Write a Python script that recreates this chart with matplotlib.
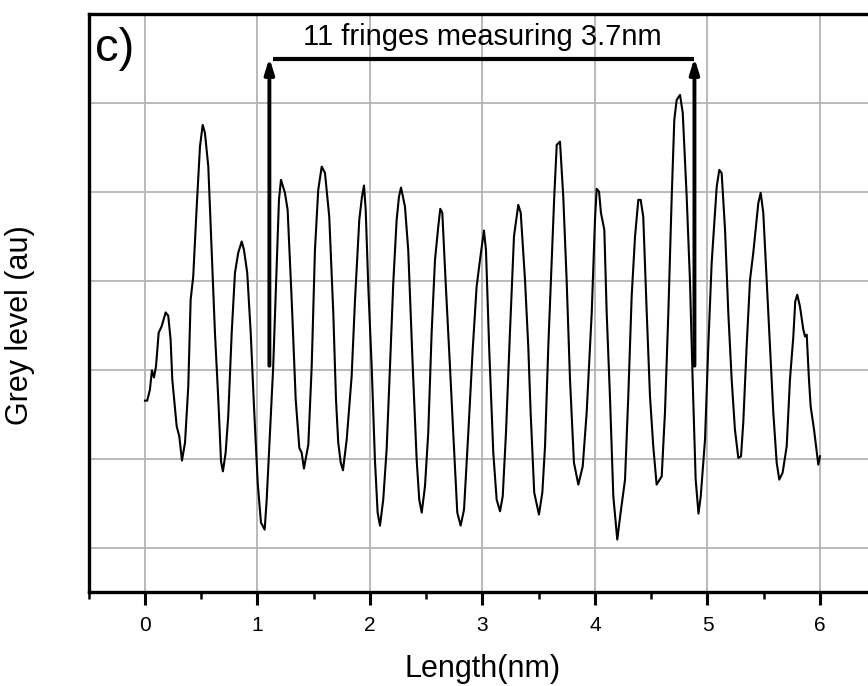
import matplotlib
matplotlib.use("Agg")
import matplotlib.pyplot as plt
from matplotlib.ticker import MultipleLocator, NullFormatter

plt.rcParams['font.family'] = ['Liberation Sans', 'DejaVu Sans']

# Line profile across the lattice fringes (length in nm, grey level in arbitrary units)
length_nm = [
    0.000, 0.020, 0.044, 0.062, 0.080, 0.098, 0.122, 0.148, 0.184, 0.207,
    0.228, 0.243, 0.282, 0.305, 0.329, 0.356, 0.385, 0.406, 0.429, 0.460,
    0.489, 0.513, 0.533, 0.563, 0.593, 0.622, 0.652, 0.676, 0.693, 0.717,
    0.740, 0.771, 0.800, 0.829, 0.860, 0.880, 0.909, 0.940, 0.969, 1.002,
    1.031, 1.064, 1.082, 1.111, 1.140, 1.171, 1.191, 1.209, 1.244, 1.268,
    1.304, 1.340, 1.372, 1.393, 1.413, 1.452, 1.482, 1.511, 1.540, 1.571,
    1.600, 1.638, 1.674, 1.698, 1.718, 1.740, 1.760, 1.793, 1.837, 1.867,
    1.905, 1.929, 1.947, 1.962, 1.985, 2.015, 2.044, 2.068, 2.089, 2.118,
    2.148, 2.178, 2.207, 2.237, 2.258, 2.276, 2.311, 2.340, 2.380, 2.415,
    2.438, 2.460, 2.489, 2.518, 2.548, 2.578, 2.607, 2.625, 2.643, 2.673,
    2.711, 2.740, 2.776, 2.806, 2.836, 2.874, 2.913, 2.948, 2.978, 3.013,
    3.031, 3.060, 3.096, 3.126, 3.156, 3.180, 3.209, 3.244, 3.280, 3.318,
    3.340, 3.378, 3.407, 3.428, 3.460, 3.502, 3.532, 3.556, 3.585, 3.615,
    3.638, 3.660, 3.689, 3.718, 3.748, 3.778, 3.813, 3.852, 3.891, 3.926,
    3.971, 4.000, 4.015, 4.036, 4.053, 4.083, 4.104, 4.133, 4.163, 4.198,
    4.228, 4.267, 4.296, 4.326, 4.356, 4.385, 4.406, 4.429, 4.460, 4.489,
    4.518, 4.548, 4.593, 4.622, 4.652, 4.682, 4.705, 4.726, 4.756, 4.780,
    4.815, 4.844, 4.868, 4.895, 4.920, 4.940, 4.978, 5.007, 5.037, 5.082,
    5.105, 5.126, 5.156, 5.185, 5.215, 5.244, 5.274, 5.298, 5.318, 5.348,
    5.378, 5.407, 5.437, 5.452, 5.473, 5.496, 5.526, 5.556, 5.585, 5.615,
    5.638, 5.668, 5.704, 5.733, 5.763, 5.780, 5.798, 5.822, 5.852, 5.867,
    5.882, 5.902, 5.917, 5.947, 5.985, 6.000,
]
grey_level = [
    2.652, 2.652, 2.775, 2.992, 2.913, 3.037, 3.416, 3.487, 3.644, 3.607,
    3.337, 2.888, 2.363, 2.251, 1.978, 2.180, 2.812, 3.787, 4.048, 4.835,
    5.509, 5.753, 5.663, 5.284, 4.348, 3.416, 2.663, 1.970, 1.857, 2.067,
    2.475, 3.416, 4.090, 4.315, 4.442, 4.348, 4.090, 3.416, 2.588, 1.730,
    1.281, 1.202, 1.539, 2.292, 3.037, 4.161, 4.910, 5.135, 4.989, 4.798,
    3.787, 2.663, 2.120, 2.067, 1.888, 2.157, 3.037, 4.348, 5.022, 5.284,
    5.213, 4.722, 3.637, 2.663, 2.180, 1.955, 1.869, 2.213, 2.925, 3.787,
    4.685, 4.947, 5.071, 4.798, 3.936, 3.037, 1.989, 1.393, 1.247, 1.539,
    2.101, 3.037, 3.974, 4.685, 4.947, 5.048, 4.835, 4.348, 3.037, 1.989,
    1.539, 1.393, 1.689, 2.292, 3.416, 4.236, 4.610, 4.809, 4.764, 3.974,
    3.037, 2.292, 1.393, 1.247, 1.427, 2.292, 3.225, 3.936, 4.236, 4.565,
    4.348, 3.225, 2.067, 1.539, 1.408, 1.576, 2.292, 3.416, 4.498, 4.854,
    4.764, 4.011, 3.262, 2.517, 1.618, 1.371, 1.618, 2.138, 3.262, 4.199,
    4.947, 5.528, 5.565, 4.947, 4.011, 2.888, 1.955, 1.708, 1.913, 2.517,
    3.640, 4.685, 5.034, 5.003, 4.764, 4.573, 3.640, 2.700, 1.576, 1.090,
    1.393, 1.764, 2.700, 3.824, 4.498, 4.910, 4.910, 4.722, 3.640, 2.700,
    2.138, 1.708, 1.801, 2.517, 3.640, 4.947, 5.809, 6.034, 6.090, 5.888,
    4.947, 4.011, 2.888, 1.764, 1.382, 1.576, 2.213, 3.262, 4.199, 5.060,
    5.247, 5.210, 4.573, 3.640, 2.888, 2.326, 2.008, 2.026, 2.404, 3.262,
    4.011, 4.315, 4.685, 4.876, 4.989, 4.764, 4.011, 3.262, 2.517, 1.955,
    1.764, 1.843, 2.138, 2.888, 3.374, 3.767, 3.843, 3.711, 3.449, 3.374,
    3.393, 2.888, 2.588, 2.326, 1.933, 2.026,
]

# Span bracket marking the fringes that were counted
fringe_start = 1.106
fringe_end = 4.884
bracket_base = 3.045
bracket_top = 6.506
bracket_text = "11 fringes measuring 3.7nm"

x_ticks = [0, 1, 2, 3, 4, 5, 6]

fig = plt.figure(figsize=(8.68, 6.86), dpi=100)
ax = fig.add_axes([0.1022, 0.137, 0.9073, 0.8426])

ax.plot(length_nm, grey_level, color='black', lw=1.5, zorder=3)

ax.set_xlim(-0.5, 6.5)
ax.set_ylim(0.5, 7.0)

ax.xaxis.set_major_locator(MultipleLocator(1))
ax.xaxis.set_minor_locator(MultipleLocator(0.5))
ax.set_xticks(x_ticks)
ax.set_xticklabels([str(t) for t in x_ticks])
ax.yaxis.set_major_locator(MultipleLocator(1))
ax.yaxis.set_major_formatter(NullFormatter())

ax.grid(True, which='major', color='#b4b4b4', lw=1.3, zorder=0)
ax.tick_params(axis='x', which='major', direction='out', length=9, width=2.2,
               labelsize=15, pad=8, top=False)
ax.tick_params(axis='x', which='minor', direction='out', length=5, width=1.8, top=False)
ax.tick_params(axis='y', which='both', length=0)

for side in ('left', 'bottom', 'top'):
    ax.spines[side].set_linewidth(2.4)
    ax.spines[side].set_color('black')
ax.spines['right'].set_visible(False)

ax.set_xlabel('Length(nm)', fontsize=22, labelpad=14)
ax.set_ylabel('Grey level (au)', fontsize=22, va='center')
ax.yaxis.set_label_coords(-0.087, 0.462)

# Bracket: two upward arrows joined by a horizontal bar
for xpos in (fringe_start, fringe_end):
    ax.annotate('', xy=(xpos, bracket_top), xytext=(xpos, bracket_base),
                arrowprops=dict(arrowstyle='-|>,head_width=0.28,head_length=0.9',
                                lw=2.8, color='black', shrinkA=0, shrinkB=0),
                zorder=4)
ax.plot([fringe_start + 0.032, fringe_end], [bracket_top - 0.012, bracket_top - 0.012],
        color='black', lw=3.0, solid_capstyle='butt', zorder=4)
ax.text((fringe_start + fringe_end) / 2, 6.74, bracket_text, fontsize=21,
        ha='center', va='center', zorder=4)

ax.text(-0.445, 6.61, 'c)', fontsize=34, ha='left', va='center', zorder=4)

fig.savefig('out.png', dpi=100)
